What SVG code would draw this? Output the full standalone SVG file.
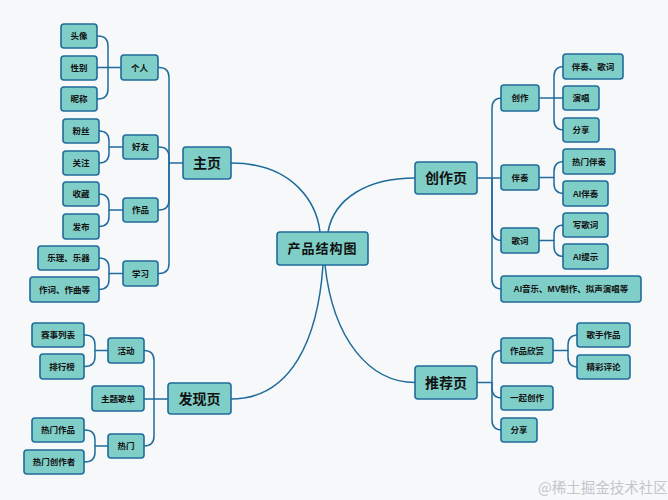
<svg xmlns="http://www.w3.org/2000/svg" width="668" height="500" viewBox="0 0 668 500">
<style>
.bg{fill:#f7f8fa}
.n rect{fill:#80cec8;stroke:#1f6c9c;stroke-width:1.6}
.n text{font-family:"Liberation Sans","Noto Sans CJK SC",sans-serif;font-weight:bold;fill:#111;text-anchor:middle;dominant-baseline:central}
.s text{font-size:8.5px}
.m text{font-size:14px}
.r text{font-size:13px;letter-spacing:1px}
.c path{fill:none;stroke:#1f6c9c;stroke-width:1.5}
.wm{font-family:"Noto Sans CJK SC",sans-serif;font-size:14.5px;fill:#c3c6ca}
</style>
<rect class="bg" x="0" y="0" width="668" height="500"/>
<g id="connectors" class="c">
<!-- root -->
<path d="M231,163 C295,163 317,205 320,232"/>
<path d="M328,232 C334,198 368,178 415,178"/>
<path d="M323,265 C318,338 292,399 231,399"/>
<path d="M325,265 C333,340 370,382.5 415,382.5"/>
<!-- 主页 -->
<path d="M183,163 H169 V77.5 Q169,67.5 159,67.5 H158"/>
<path d="M169,163 V157 Q169,147 159,147 H158"/>
<path d="M169,163 V200 Q169,210 159,210 H158"/>
<path d="M169,163 V263.5 Q169,273.5 159,273.5 H158"/>
<!-- 个人 -->
<path d="M121,67.5 H108 V46 Q108,36 98,36 H97"/>
<path d="M108,67.5 H97"/>
<path d="M108,67.5 V89 Q108,99 98,99 H97"/>
<!-- 好友 -->
<path d="M123,147 H109 V141 Q109,131 99,131"/>
<path d="M109,147 V153 Q109,163 99,163"/>
<!-- 作品 -->
<path d="M123,210 H109 V204 Q109,194 99,194"/>
<path d="M109,210 V216.5 Q109,226.5 99,226.5"/>
<!-- 学习 -->
<path d="M123,273.5 H109 V268 Q109,258 99,258"/>
<path d="M109,273.5 V279.5 Q109,289.5 99,289.5"/>
<!-- 发现页 -->
<path d="M168,399 H154 V360.5 Q154,350.5 144,350.5"/>
<path d="M154,399 H144"/>
<path d="M154,399 V436 Q154,446 144,446"/>
<!-- 活动 -->
<path d="M108,350.5 H95 V345 Q95,335 85,335 H84"/>
<path d="M95,350.5 V356.5 Q95,366.5 85,366.5 H84"/>
<!-- 热门 -->
<path d="M108,446 H95 V440 Q95,430 85,430 H84"/>
<path d="M95,446 V452 Q95,462 85,462 H84"/>
<!-- 创作页 -->
<path d="M477,178 H492 V108 Q492,98 502,98"/>
<path d="M492,178 H501"/>
<path d="M492,178 V230.5 Q492,240.5 502,240.5"/>
<path d="M492,178 V279 Q492,289 502,289"/>
<!-- 创作 -->
<path d="M539,98 H554 V76.5 Q554,66.5 564,66.5"/>
<path d="M554,98 H563"/>
<path d="M554,98 V120 Q554,130 564,130"/>
<!-- 伴奏 -->
<path d="M539,177.5 H554 V171.5 Q554,161.5 564,161.5"/>
<path d="M554,177.5 V183.5 Q554,193.5 564,193.5"/>
<!-- 歌词 -->
<path d="M539,240.5 H554 V235 Q554,225 564,225"/>
<path d="M554,240.5 V246.5 Q554,256.5 564,256.5"/>
<!-- 推荐页 -->
<path d="M477,382.5 H492 V360.5 Q492,350.5 502,350.5"/>
<path d="M492,382.5 V388 Q492,398 502,398"/>
<path d="M492,382.5 V420 Q492,430 502,430"/>
<!-- 作品欣赏 -->
<path d="M553,350.5 H568 V345 Q568,335 578,335"/>
<path d="M568,350.5 V357 Q568,367 578,367"/>
</g>
<g id="root" class="n r"><rect x="277" y="232" width="91" height="33" rx="3"/><text x="322.5" y="248.5">产品结构图</text></g>
<g id="zhuye" class="n m"><rect x="183" y="147" width="48" height="32" rx="3"/><text x="207" y="163">主页</text></g>
<g id="faxian" class="n m"><rect x="168" y="383" width="63" height="31" rx="3"/><text x="199.5" y="398.5">发现页</text></g>
<g id="chuangzuoye" class="n m"><rect x="415" y="162" width="62" height="32" rx="3"/><text x="446" y="178">创作页</text></g>
<g id="tuijian" class="n m"><rect x="415" y="366" width="62" height="33" rx="3"/><text x="446" y="382.5">推荐页</text></g>

<g id="geren" class="n s"><rect x="121" y="55" width="37" height="25" rx="3"/><text x="139.5" y="67.5">个人</text></g>
<g id="touxiang" class="n s"><rect x="61" y="24" width="36" height="24" rx="3"/><text x="79" y="36">头像</text></g>
<g id="xingbie" class="n s"><rect x="61" y="56" width="36" height="24" rx="3"/><text x="79" y="68">性别</text></g>
<g id="nicheng" class="n s"><rect x="61" y="87" width="36" height="24" rx="3"/><text x="79" y="99">昵称</text></g>
<g id="haoyou" class="n s"><rect x="123" y="135" width="35" height="24" rx="3"/><text x="140.5" y="147">好友</text></g>
<g id="fensi" class="n s"><rect x="63" y="119" width="36" height="24" rx="3"/><text x="81" y="131">粉丝</text></g>
<g id="guanzhu" class="n s"><rect x="63" y="151" width="36" height="24" rx="3"/><text x="81" y="163">关注</text></g>
<g id="zuopin" class="n s"><rect x="123" y="198" width="35" height="24" rx="3"/><text x="140.5" y="210">作品</text></g>
<g id="shoucang" class="n s"><rect x="63" y="182" width="36" height="24" rx="3"/><text x="81" y="194">收藏</text></g>
<g id="fabu" class="n s"><rect x="63" y="214" width="36" height="25" rx="3"/><text x="81" y="226.5">发布</text></g>
<g id="xuexi" class="n s"><rect x="123" y="261" width="35" height="25" rx="3"/><text x="140.5" y="273.5">学习</text></g>
<g id="yueli" class="n s"><rect x="38" y="246" width="61" height="24" rx="3"/><text x="68.5" y="258">乐理、乐器</text></g>
<g id="zuoci" class="n s"><rect x="30" y="277" width="69" height="25" rx="3"/><text x="64.5" y="289.5">作词、作曲等</text></g>

<g id="huodong" class="n s"><rect x="108" y="338" width="36" height="25" rx="3"/><text x="126" y="350.5">活动</text></g>
<g id="saishi" class="n s"><rect x="32" y="323" width="52" height="24" rx="3"/><text x="58" y="335">赛事列表</text></g>
<g id="paihang" class="n s"><rect x="40" y="354" width="44" height="25" rx="3"/><text x="62" y="366.5">排行榜</text></g>
<g id="zhuti" class="n s"><rect x="92" y="386" width="52" height="25" rx="3"/><text x="118" y="398.5">主题歌单</text></g>
<g id="remen" class="n s"><rect x="108" y="434" width="36" height="24" rx="3"/><text x="126" y="446">热门</text></g>
<g id="remenzuopin" class="n s"><rect x="32" y="418" width="52" height="24" rx="3"/><text x="58" y="430">热门作品</text></g>
<g id="remenchuangzuozhe" class="n s"><rect x="24" y="450" width="60" height="24" rx="3"/><text x="54" y="462">热门创作者</text></g>

<g id="chuangzuo" class="n s"><rect x="501" y="85" width="38" height="26" rx="3"/><text x="520" y="98">创作</text></g>
<g id="banzougeci" class="n s"><rect x="563" y="54" width="60" height="25" rx="3"/><text x="593" y="66.5">伴奏、歌词</text></g>
<g id="yanchang" class="n s"><rect x="563" y="86" width="36" height="24" rx="3"/><text x="581" y="98">演唱</text></g>
<g id="fenxiang1" class="n s"><rect x="563" y="118" width="36" height="24" rx="3"/><text x="581" y="130">分享</text></g>
<g id="banzou" class="n s"><rect x="501" y="165" width="38" height="25" rx="3"/><text x="520" y="177.5">伴奏</text></g>
<g id="remenbanzou" class="n s"><rect x="563" y="149" width="52" height="25" rx="3"/><text x="589" y="161.5">热门伴奏</text></g>
<g id="aibanzou" class="n s"><rect x="563" y="181" width="45" height="25" rx="3"/><text x="585.5" y="193.5">AI伴奏</text></g>
<g id="geci" class="n s"><rect x="501" y="228" width="38" height="25" rx="3"/><text x="520" y="240.5">歌词</text></g>
<g id="xiegeci" class="n s"><rect x="563" y="213" width="45" height="24" rx="3"/><text x="585.5" y="225">写歌词</text></g>
<g id="aitishi" class="n s"><rect x="563" y="244" width="45" height="25" rx="3"/><text x="585.5" y="256.5">AI提示</text></g>
<g id="aiyinyue" class="n s"><rect x="501" y="276" width="140" height="26" rx="3"/><text x="571" y="289">AI音乐、MV制作、拟声演唱等</text></g>

<g id="zuopinxinshang" class="n s"><rect x="501" y="338" width="52" height="25" rx="3"/><text x="527" y="350.5">作品欣赏</text></g>
<g id="geshouzuopin" class="n s"><rect x="577" y="323" width="53" height="24" rx="3"/><text x="603.5" y="335">歌手作品</text></g>
<g id="jingcaipinglun" class="n s"><rect x="577" y="355" width="53" height="24" rx="3"/><text x="603.5" y="367">精彩评论</text></g>
<g id="yiqichuangzuo" class="n s"><rect x="501" y="386" width="52" height="24" rx="3"/><text x="527" y="398">一起创作</text></g>
<g id="fenxiang2" class="n s"><rect x="501" y="418" width="36" height="24" rx="3"/><text x="519" y="430">分享</text></g>

<text class="wm" x="538" y="493">@稀土掘金技术社区</text>
</svg>
